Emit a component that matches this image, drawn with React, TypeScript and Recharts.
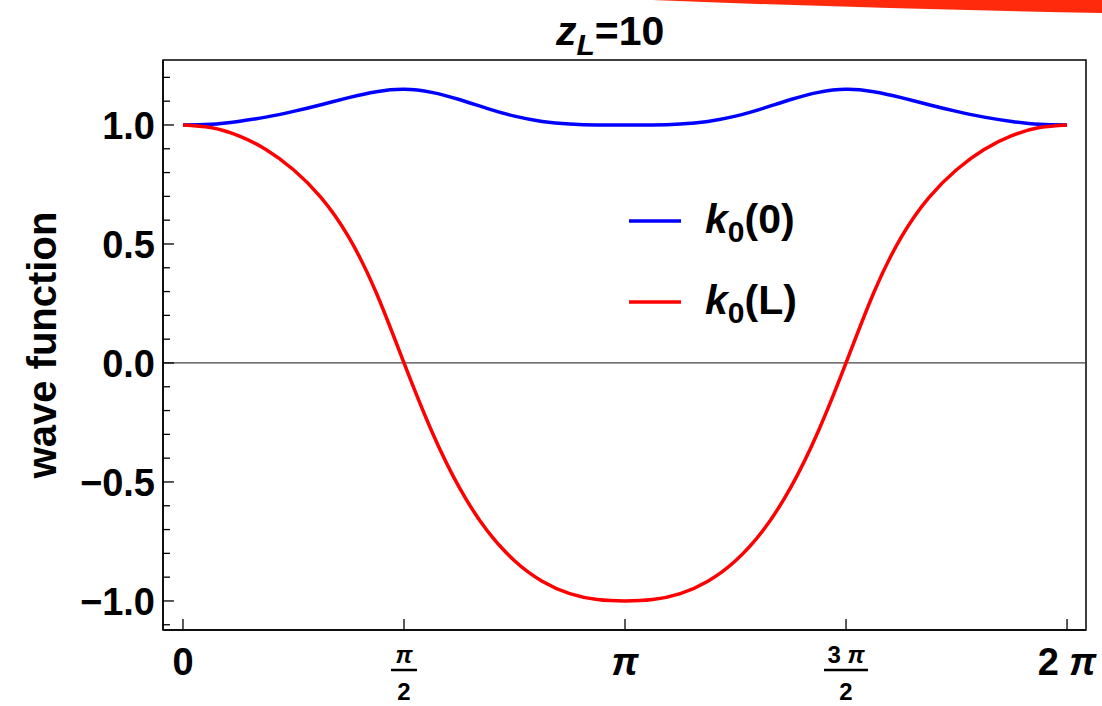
import React from "react";
import {
  LineChart,
  Line,
  XAxis,
  YAxis,
  ReferenceLine,
  ReferenceArea,
  Legend,
} from "recharts";

const PI = Math.PI;

// x positions, in multiples of pi
const X_IN_PI = [
  0, 0.0625, 0.125, 0.1875, 0.25, 0.3125, 0.375, 0.4375, 0.5, 0.5625, 0.625,
  0.6875, 0.75, 0.8125, 0.875, 0.9375, 1, 1.0625, 1.125, 1.1875, 1.25, 1.3125,
  1.375, 1.4375, 1.5, 1.5625, 1.625, 1.6875, 1.75, 1.8125, 1.875, 1.9375, 2,
];

// k0(0) — blue
const K0_ZERO = [
  1.0, 1.003, 1.015, 1.033, 1.057, 1.085, 1.115, 1.14, 1.15, 1.137, 1.107,
  1.07, 1.037, 1.015, 1.004, 1.0, 1.0, 1.0, 1.004, 1.015, 1.037, 1.07, 1.107,
  1.137, 1.15, 1.14, 1.115, 1.085, 1.057, 1.033, 1.015, 1.003, 1.0,
];

// k0(L) — red
const K0_L = [
  1.0, 0.989, 0.955, 0.897, 0.812, 0.695, 0.529, 0.294, 0.0, -0.286, -0.523,
  -0.703, -0.831, -0.917, -0.969, -0.994, -1.0, -0.994, -0.969, -0.917, -0.831,
  -0.703, -0.523, -0.286, 0.0, 0.294, 0.529, 0.695, 0.812, 0.897, 0.955, 0.989,
  1.0,
];

const X_TICKS_IN_PI = [0, 0.5, 1, 1.5, 2];
const X_TICK_LABELS = ["0", "π/2", "π", "3 π/2", "2 π"];

const Y_TICKS = [
  -1.1, -1.0, -0.9, -0.8, -0.7, -0.6, -0.5, -0.4, -0.3, -0.2, -0.1, 0.0, 0.1,
  0.2, 0.3, 0.4, 0.5, 0.6, 0.7, 0.8, 0.9, 1.0, 1.1, 1.2,
];
const Y_MAJOR_LABELS: Record<string, string> = {
  "-1": "−1.0",
  "-0.5": "−0.5",
  "0": "0.0",
  "0.5": "0.5",
  "1": "1.0",
};

const X_DOMAIN: [number, number] = [-0.142, 6.418];
const Y_DOMAIN: [number, number] = [-1.122, 1.273];

const FONT = "'Liberation Sans', Arial, sans-serif";

const data = X_IN_PI.map((f, i) => ({
  x: f * PI,
  k0zero: K0_ZERO[i],
  k0L: K0_L[i],
}));

const XTick = (props: any) => {
  const { x, y, index } = props;
  const label = X_TICK_LABELS[index] ?? "";
  const tick = (
    <line x1={x} x2={x} y1={y} y2={y - 11} stroke="#000" strokeWidth={1.3} />
  );
  if (label.includes("/")) {
    const [num, den] = label.split("/");
    const parts = num.split(" ");
    return (
      <g>
        {tick}
        <text
          x={x}
          y={y + 33}
          textAnchor="middle"
          fontFamily={FONT}
          fontWeight="bold"
          fontSize={24}
          fill="#000"
        >
          {parts.length > 1 ? (
            <>
              {parts[0]}
              <tspan fontStyle="italic"> π</tspan>
            </>
          ) : (
            <tspan fontStyle="italic">π</tspan>
          )}
        </text>
        <line
          x1={x - (parts.length > 1 ? 22 : 13)}
          x2={x + (parts.length > 1 ? 22 : 13)}
          y1={y + 40}
          y2={y + 40}
          stroke="#000"
          strokeWidth={2.5}
        />
        <text
          x={x}
          y={y + 70}
          textAnchor="middle"
          fontFamily={FONT}
          fontWeight="bold"
          fontSize={24}
          fill="#000"
        >
          {den}
        </text>
      </g>
    );
  }
  return (
    <g>
      {tick}
      <text
        x={x}
        y={y + 45}
        textAnchor="middle"
        fontFamily={FONT}
        fontWeight="bold"
        fontSize={38}
        fill="#000"
      >
        {label === "π" ? (
          <tspan fontStyle="italic">π</tspan>
        ) : label === "2 π" ? (
          <>
            2<tspan fontStyle="italic"> π</tspan>
          </>
        ) : (
          label
        )}
      </text>
    </g>
  );
};

const YTick = (props: any) => {
  const { x, y, payload } = props;
  const key = String(Math.round(payload.value * 10) / 10);
  const lbl = Y_MAJOR_LABELS[key];
  const major = lbl !== undefined;
  return (
    <g>
      <line
        x1={x}
        x2={x + (major ? 11 : 7)}
        y1={y}
        y2={y}
        stroke="#000"
        strokeWidth={1.3}
      />
      {major && (
        <text
          x={x - 8}
          y={y + 14}
          textAnchor="end"
          fontFamily={FONT}
          fontWeight="bold"
          fontSize={38}
          fill="#000"
        >
          {lbl}
        </text>
      )}
    </g>
  );
};

const renderName = (name: string) => {
  const rest = name.slice(2);
  return (
    <span style={{ fontFamily: FONT, fontWeight: "bold", fontSize: 41 }}>
      <i>k</i>
      <span style={{ fontSize: 30, position: "relative", top: 9 }}>0</span>
      {rest}
    </span>
  );
};

const LegendContent = (props: any) => {
  const { payload } = props;
  return (
    <div>
      {(payload || []).map((p: any) => (
        <div
          key={p.value}
          style={{
            display: "flex",
            alignItems: "center",
            height: 81,
            lineHeight: "40px",
          }}
        >
          <svg width={52} height={10} style={{ marginRight: 24 }}>
            <line x1={0} x2={52} y1={5} y2={5} stroke={p.color} strokeWidth={3.5} />
          </svg>
          {renderName(p.value)}
        </div>
      ))}
    </div>
  );
};

export default function App() {
  return (
    <div
      style={{
        position: "absolute",
        left: 0,
        top: 0,
        width: 1102,
        height: 706,
        background: "#fff",
        overflow: "hidden",
      }}
    >
      <svg
        width={1102}
        height={20}
        style={{ position: "absolute", left: 0, top: 0 }}
      >
        <path d="M 652 0 L 1102 0 L 1102 13 Q 880 9 652 0 Z" fill="#ff2a0c" />
      </svg>
      <div
        style={{
          position: "absolute",
          left: 556,
          top: 8,
          fontFamily: FONT,
          fontWeight: "bold",
          fontSize: 41,
          lineHeight: "46px",
          whiteSpace: "nowrap",
        }}
      >
        <i>z</i>
        <i style={{ fontSize: 30, position: "relative", top: 10 }}>L</i>=10
      </div>
      <LineChart
        width={1102}
        height={706}
        data={data}
        margin={{ top: 60, right: 16, left: 0, bottom: 0 }}
      >
        <XAxis
          dataKey="x"
          type="number"
          domain={X_DOMAIN}
          allowDataOverflow
          ticks={X_TICKS_IN_PI.map((f) => f * PI)}
          interval={0}
          tick={<XTick />}
          tickLine={false}
          tickSize={0}
          tickMargin={0}
          height={76}
          axisLine={{ stroke: "#000", strokeWidth: 1.5 }}
        />
        <YAxis
          type="number"
          domain={Y_DOMAIN}
          allowDataOverflow
          ticks={Y_TICKS}
          interval={0}
          tick={<YTick />}
          tickLine={false}
          tickSize={0}
          tickMargin={0}
          width={163}
          axisLine={{ stroke: "#000", strokeWidth: 1.5 }}
          label={{
            value: "wave function",
            angle: -90,
            position: "insideLeft",
            offset: 0,
            style: {
              fontFamily: FONT,
              fontWeight: "bold",
              fontSize: 40,
              fill: "#000",
              textAnchor: "middle",
            },
            dx: 42,
          }}
        />
        <ReferenceArea
          x1={X_DOMAIN[0]}
          x2={X_DOMAIN[1]}
          y1={Y_DOMAIN[0]}
          y2={Y_DOMAIN[1]}
          fill="none"
          stroke="#000"
          strokeWidth={1.5}
          ifOverflow="visible"
        />
        <ReferenceLine y={0} stroke="#444" strokeWidth={1.2} />
        <Line
          type="natural"
          dataKey="k0zero"
          name="k0(0)"
          stroke="#0000ff"
          strokeWidth={3.5}
          dot={false}
          isAnimationActive={false}
        />
        <Line
          type="natural"
          dataKey="k0L"
          name="k0(L)"
          stroke="#ff0000"
          strokeWidth={3.5}
          dot={false}
          isAnimationActive={false}
        />
        <Legend
          layout="vertical"
          align="center"
          verticalAlign="middle"
          content={<LegendContent />}
          wrapperStyle={{ position: "absolute", left: 629, top: 180, width: 240 }}
        />
      </LineChart>
    </div>
  );
}
